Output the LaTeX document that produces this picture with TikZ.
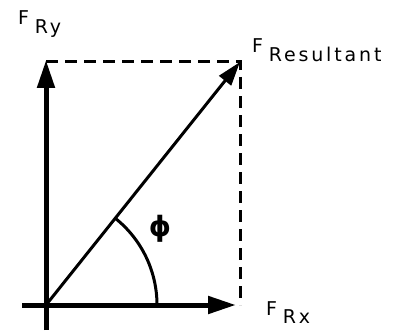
\documentclass[tikz,border=0pt]{standalone}
\usepackage{fontspec}
\setmainfont{DejaVu Sans}[LetterSpace=15]
\usetikzlibrary{arrows.meta,calc}
\newcommand{\Fsub}[1]{F\hspace{0.3em}\raisebox{-0.45em}{#1}}

\begin{document}
\begin{tikzpicture}[x=1pt,y=1pt,
  axis/.style={line width=5pt,-{Triangle[length=28pt,width=17pt]}},
  dashline/.style={line width=3pt,dash pattern=on 12pt off 7pt},
  lbl/.style={font=\fontsize{19}{21}\selectfont,inner sep=0pt,anchor=base west}]
\useasboundingbox (0,0) rectangle (404,330);
% points
\coordinate (O) at (46,25);
\coordinate (P) at (240,268);
\coordinate (ytop) at (46,268);
\coordinate (xend) at (240,25);
% axes
\draw[axis] (22,25) -- (236,25);
\draw[axis] (46,0) -- (46,270);
% dashed box
\draw[dashline] (ytop) -- (P) -- (xend);
% resultant
\draw[line width=3pt,-{Triangle[length=24pt,width=15pt]}] (O) -- (P);
% angle
\draw[line width=3pt] ($(O)+(111,0)$) arc[start angle=0,end angle=51.4,radius=111];
\node[font=\fontsize{28}{30}\selectfont\bfseries] (phi) at (160,101) {ϕ};
% labels
\node[lbl] (fry) at (18,305) {\Fsub{Ry}};
\node[lbl] (fres) at (252,277) {\Fsub{Resultant}};
\node[lbl] (frx) at (266,15) {\Fsub{Rx}};
\end{tikzpicture}
\end{document}
